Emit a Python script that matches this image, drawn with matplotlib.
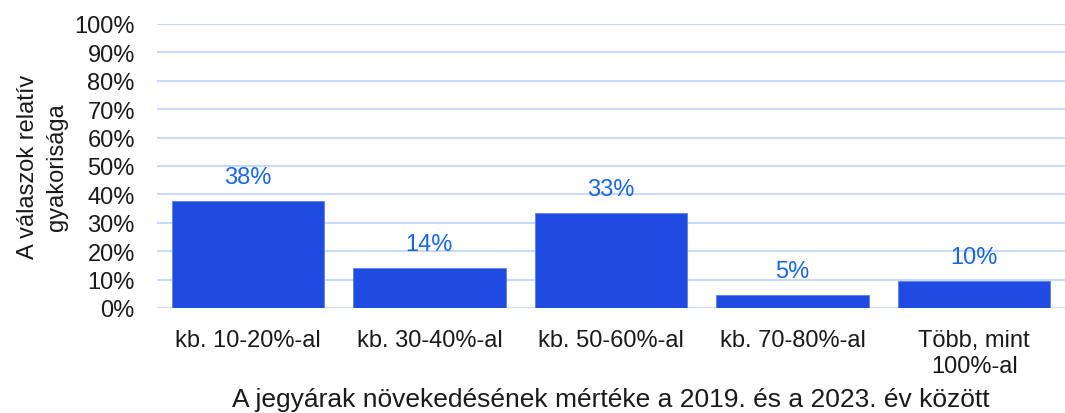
import matplotlib.pyplot as plt
import numpy as np

categories = ["kb. 10-20%-al", "kb. 30-40%-al", "kb. 50-60%-al", "kb. 70-80%-al", "Több, mint\n100%-al"]
values = [37.8, 14.2, 33.4, 4.6, 9.5]
yticks = list(range(0, 101, 10))


def main():
    plt.rcParams['font.family'] = ['Liberation Sans', 'DejaVu Sans']
    fig = plt.figure(figsize=(10.65, 4.14), dpi=100)
    ax = fig.add_axes([157 / 1065, 1 - 309 / 414, (1065 - 157) / 1065, (309 - 25) / 414])

    x = np.arange(len(categories))
    ax.bar(x, values, width=0.84, color='#1f4be0', edgecolor='#5b7ff0', linewidth=0.6, zorder=3)
    for xi, v in zip(x, values):
        ax.text(xi, v + 4.6, "{:.0f}%".format(v), ha='center', va='bottom', fontsize=17, color='#1a66e8')

    ax.set_xlim(-0.5, len(categories) - 0.5)
    ax.set_ylim(0, 100)
    ax.set_yticks(yticks)
    ax.set_yticklabels(["{}%".format(t) for t in yticks], fontsize=17, color='#1a1a1a')
    ax.set_xticks(x)
    ax.set_xticklabels(categories, fontsize=17, color='#1a1a1a', linespacing=1.25)
    ax.tick_params(axis='x', length=0, pad=15)
    ax.tick_params(axis='y', length=0, pad=16)
    ax.grid(axis='y', color='#c9daf8', linewidth=1.5, zorder=0)
    for s in ax.spines.values():
        s.set_visible(False)

    ax.set_ylabel("A válaszok relatív\ngyakorisága", fontsize=17, color='#1a1a1a', linespacing=1.42)
    ax.yaxis.set_label_coords(-0.098, 0.5)
    ax.set_xlabel("A jegyárak növekedésének mértéke a 2019. és a 2023. év között", fontsize=19,
                  color='#1a1a1a')
    ax.xaxis.set_label_coords(0.5, -0.277)

    fig.savefig("out.png", dpi=100)


if __name__ == "__main__":
    main()
